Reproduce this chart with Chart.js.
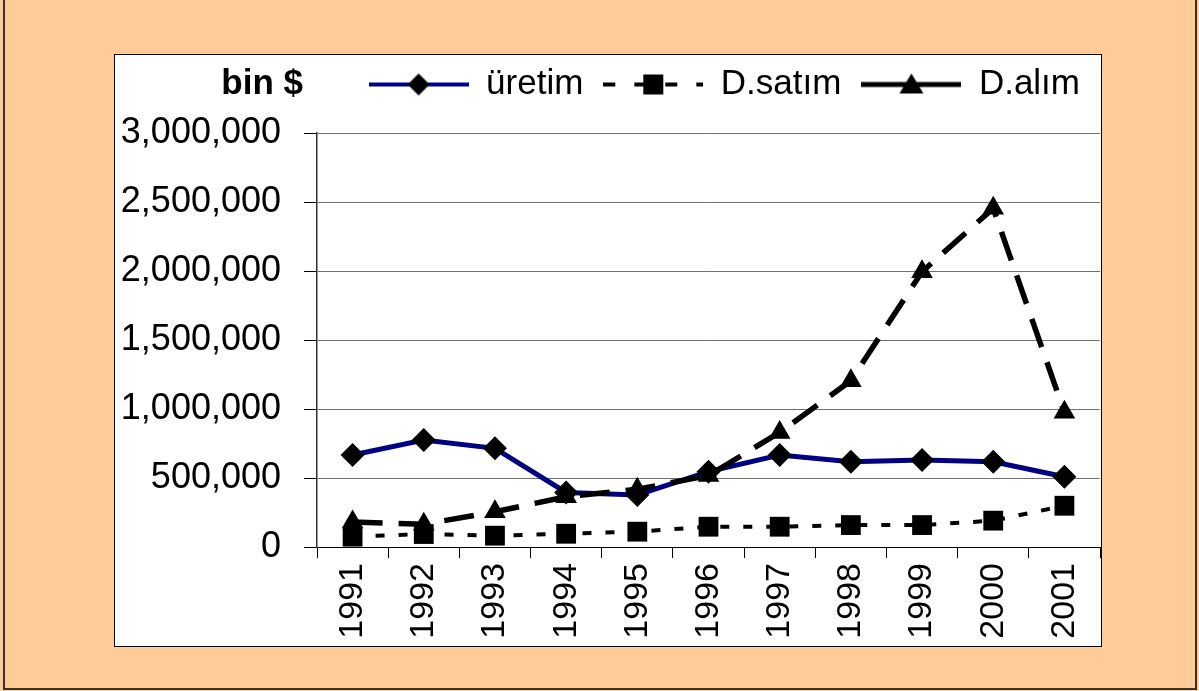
<!DOCTYPE html>
<html>
<head>
<meta charset="utf-8">
<script src="https://cdn.jsdelivr.net/npm/chart.js"></script>
<style type="text/css">
	html, body { margin: 0; padding: 0; }
	body { width: 1199px; height: 691px; background: #FFCC99; position: relative; overflow: hidden; }
	.frame { position: absolute; left: 3px; top: -4px; width: 1190px; height: 690px; border: 2px solid #333; }
	.plot-box { position: absolute; left: 114px; top: 54px; width: 986px; height: 591px; background: #fff; border: 1px solid #000; }
	#chart { position: absolute; left: 0; top: 0; }
</style>
</head>
<body>
<div class="frame"></div>
<div class="plot-box"></div>
<canvas id="chart" width="1199" height="691"></canvas>

<script>
	// veriler (bin $)
	var years = ['1991', '1992', '1993', '1994', '1995', '1996', '1997', '1998', '1999', '2000', '2001'];
	var uretim = [667000, 775000, 715000, 395000, 377000, 546000, 667000, 618000, 630000, 618000, 509000];
	var dSatim = [75000, 94000, 82000, 96000, 111000, 147000, 147000, 159000, 159000, 191000, 299000];
	var dAlim = [181000, 165000, 255000, 364000, 418000, 518000, 830000, 1205000, 1995000, 2454000, 976000];
	var yMin = 0;
	var yMax = 3000000;
	var yStep = 500000;
	var unitLabel = 'bin $';

	var FONT = '"Liberation Sans", Arial, sans-serif';

	// legend swatches: line + marker, like the excel legend
	function swatch(kind) {
		var c = document.createElement('canvas');
		c.width = 100;
		c.height = 30;
		var g = c.getContext('2d');
		g.fillStyle = '#000';
		if (kind == 'diamond') {
			g.strokeStyle = '#000080';
			g.lineWidth = 4;
			g.beginPath(); g.moveTo(0, 15); g.lineTo(100, 15); g.stroke();
			g.beginPath(); g.moveTo(50, 4); g.lineTo(61, 15); g.lineTo(50, 26); g.lineTo(39, 15); g.closePath(); g.fill();
		} else if (kind == 'square') {
			g.strokeStyle = '#000';
			g.lineWidth = 4;
			g.setLineDash([12, 19]);
			g.beginPath(); g.moveTo(0, 15); g.lineTo(100, 15); g.stroke();
			g.fillRect(40, 5, 20, 20);
		} else {
			g.strokeStyle = '#000';
			g.lineWidth = 5;
			g.beginPath(); g.moveTo(0, 15); g.lineTo(100, 15); g.stroke();
			g.beginPath(); g.moveTo(50, 4); g.lineTo(62, 24); g.lineTo(38, 24); g.closePath(); g.fill();
		}
		return c;
	}
	var swatches = [swatch('diamond'), swatch('square'), swatch('triangle')];

	// "bin $" next to the legend
	var unitPlugin = {
		id: 'unitLabel',
		afterDraw: function(chart) {
			var ctx = chart.ctx;
			var lg = chart.legend;
			var y = lg.top + lg.options.labels.padding + lg.options.labels.font.size / 2;
			ctx.save();
			ctx.font = 'bold 35px ' + FONT;
			ctx.fillStyle = '#000';
			ctx.textAlign = 'right';
			ctx.textBaseline = 'middle';
			ctx.fillText(unitLabel, chart.chartArea.left - 14, y);
			ctx.restore();
		}
	};

	var ctx = document.getElementById('chart');
	var chart = new Chart(ctx, {
		type: 'line',
		data: {
			labels: years,
			datasets: [{
				label: 'üretim',
				data: uretim,
				borderColor: '#000080',
				borderWidth: 5,
				pointStyle: 'rectRot',
				pointRadius: 12,
				pointBackgroundColor: '#000',
				pointBorderColor: '#000',
				pointBorderWidth: 0,
				order: 3
			}, {
				label: 'D.satım',
				data: dSatim,
				borderColor: '#000',
				borderWidth: 4,
				borderDash: [9, 14],
				pointStyle: 'rect',
				pointRadius: 14,
				pointBackgroundColor: '#000',
				pointBorderColor: '#000',
				pointBorderWidth: 0,
				order: 2
			}, {
				label: 'D.alım',
				data: dAlim,
				borderColor: '#000',
				borderWidth: 5.5,
				borderDash: [30, 16],
				pointStyle: 'triangle',
				pointRadius: 12.5,
				pointBackgroundColor: '#000',
				pointBorderColor: '#000',
				pointBorderWidth: 0,
				order: 1
			}]
		},
		options: {
			responsive: false,
			animation: false,
			devicePixelRatio: 1,
			clip: false,
			tension: 0,
			layout: {
				padding: { left: 0, right: 99, top: 47, bottom: 44 }
			},
			plugins: {
				tooltip: { enabled: false },
				legend: {
					position: 'top',
					align: 'end',
					labels: {
						usePointStyle: true,
						pointStyleWidth: 100,
						padding: 20,
						color: '#000',
						font: { family: FONT, size: 35 },
						generateLabels: function(ch) {
							return ch.data.datasets.map(function(ds, i) {
								return {
									text: ds.label,
									datasetIndex: i,
									pointStyle: swatches[i],
									fillStyle: '#000',
									strokeStyle: '#000',
									lineWidth: 0,
									fontColor: '#000',
									hidden: false
								};
							});
						}
					}
				}
			},
			scales: {
				x: {
					type: 'category',
					offset: true,
					grid: { offset: true, drawOnChartArea: false, drawTicks: true, tickLength: 11, color: '#000' },
					border: { color: '#000', width: 1 },
					ticks: {
						color: '#000',
						minRotation: 90,
						maxRotation: 90,
						padding: 5,
						font: { family: FONT, size: 34 }
					},
					afterFit: function(s) { s.height = 100; }
				},
				// empty axis, only keeps a gap between the legend and the plot
				top: {
					type: 'category',
					position: 'top',
					grid: { display: false, drawTicks: false },
					border: { display: false },
					ticks: { display: false },
					afterFit: function(s) { s.height = 21; }
				},
				y: {
					min: yMin,
					max: yMax,
					ticks: {
						stepSize: yStep,
						color: '#000',
						padding: 23,
						font: { family: FONT, size: 36 },
						callback: function(v) { return v.toLocaleString('en-US'); }
					},
					grid: { color: '#707070', lineWidth: 1, tickLength: 13, tickColor: '#000' },
					border: { color: '#333', width: 1.5 },
					afterFit: function(s) { s.width = 317; }
				}
			}
		},
		plugins: [unitPlugin]
	});
</script>
</body>
</html>
